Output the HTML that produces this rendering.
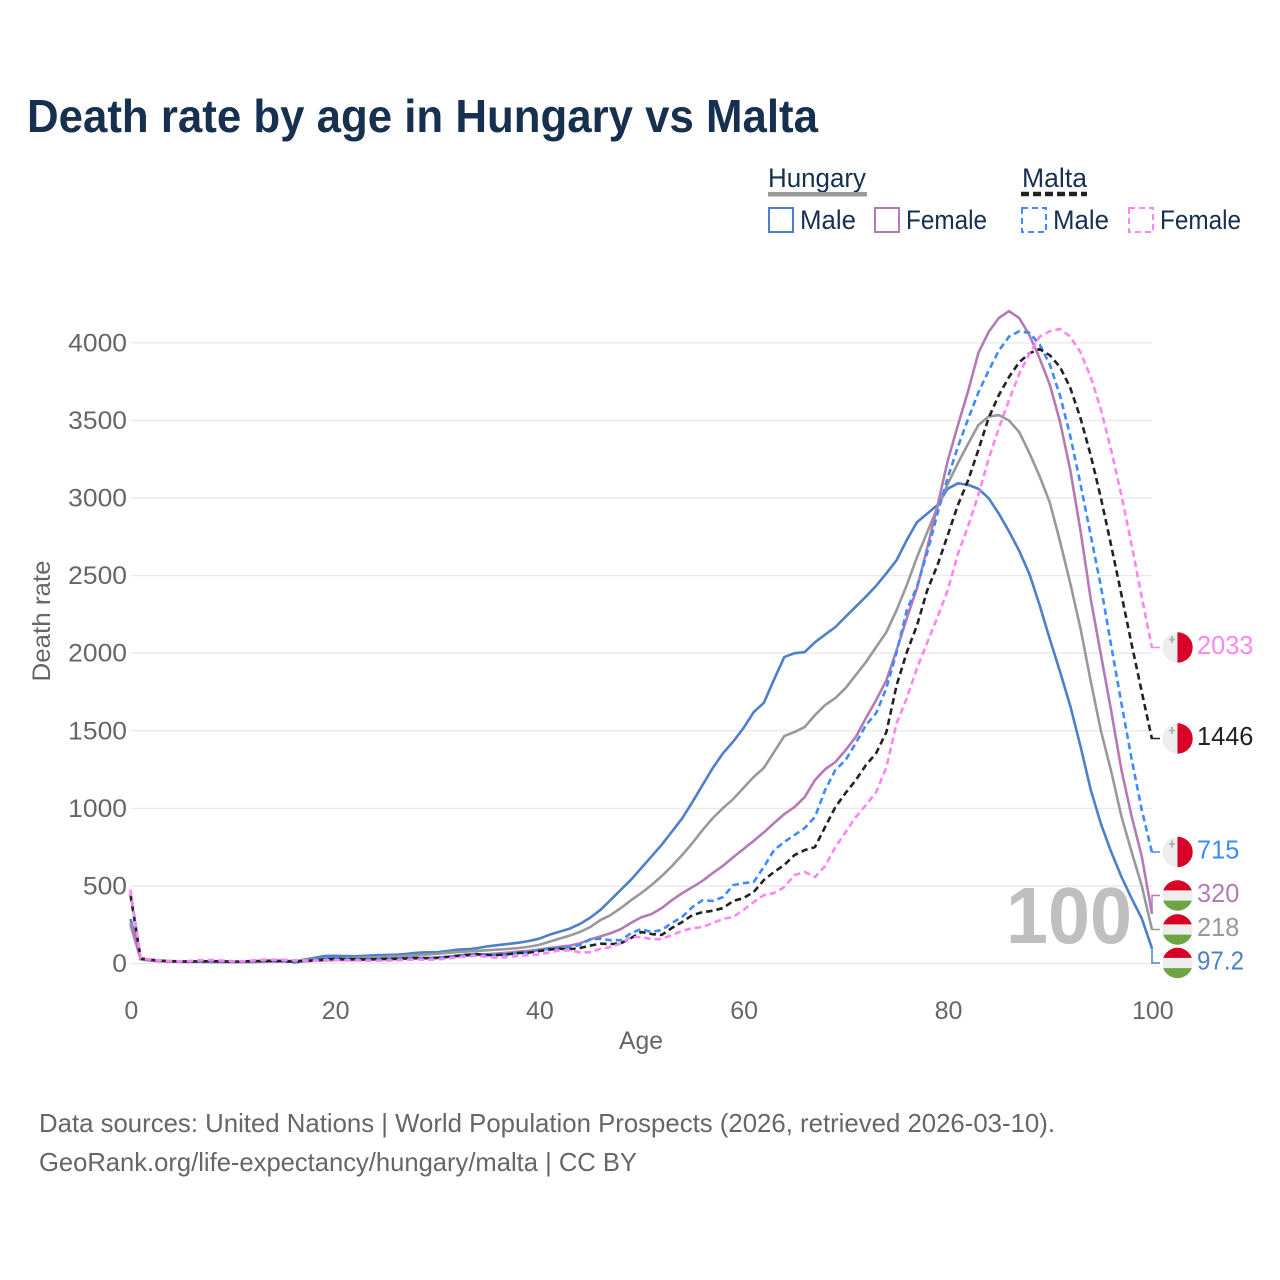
<!DOCTYPE html>
<html lang="en">
<head>
<meta charset="utf-8">
<title>Death rate by age in Hungary vs Malta</title>
<style>
html,body{margin:0;padding:0;background:#fff;}
svg{display:block;}
text{font-family:"Liberation Sans",sans-serif;}
</style>
</head>
<body>
<svg id="chart" xmlns="http://www.w3.org/2000/svg" width="1280" height="1280" viewBox="0 0 1280 1280">
  <rect width="1280" height="1280" fill="#fff"/>
  <text x="27" y="132" font-size="46" font-weight="700" fill="#17304f" textLength="791" lengthAdjust="spacingAndGlyphs">Death rate by age in Hungary vs Malta</text>

  <g>
    <text x="768" y="187" font-size="26.5" fill="#17304f" textLength="98" lengthAdjust="spacingAndGlyphs">Hungary</text>
    <rect x="768" y="192" width="99" height="4.5" fill="#999"/>
    <text x="1022" y="187" font-size="26.5" fill="#17304f" textLength="65" lengthAdjust="spacingAndGlyphs">Malta</text>
    <line x1="1021" y1="194" x2="1087" y2="194" stroke="#222" stroke-width="4.5" stroke-dasharray="8 4"/>

    <rect x="769" y="208" width="24" height="24" fill="none" stroke="#4e7fc9" stroke-width="2"/>
    <text x="800" y="229" font-size="26.5" fill="#17304f" textLength="56" lengthAdjust="spacingAndGlyphs">Male</text>
    <rect x="875" y="208" width="24" height="24" fill="none" stroke="#b57ab5" stroke-width="2"/>
    <text x="906" y="229" font-size="26.5" fill="#17304f" textLength="81" lengthAdjust="spacingAndGlyphs">Female</text>
    <rect x="1022" y="208" width="24" height="24" fill="none" stroke="#3d8bff" stroke-width="2" stroke-dasharray="6 4"/>
    <text x="1053" y="229" font-size="26.5" fill="#17304f" textLength="56" lengthAdjust="spacingAndGlyphs">Male</text>
    <rect x="1129" y="208" width="24" height="24" fill="none" stroke="#ff85f5" stroke-width="2" stroke-dasharray="6 4"/>
    <text x="1160" y="229" font-size="26.5" fill="#17304f" textLength="81" lengthAdjust="spacingAndGlyphs">Female</text>
  </g>

  <g id="grid"></g>
  <g id="yticks"></g>
  <g id="xticks"></g>

  <text x="641" y="1049" font-size="25" fill="#666" text-anchor="middle" textLength="44" lengthAdjust="spacingAndGlyphs">Age</text>
  <text transform="translate(50,621) rotate(-90)" font-size="25" fill="#666" text-anchor="middle" textLength="121" lengthAdjust="spacingAndGlyphs">Death rate</text>

  <text x="1006" y="943" font-size="80" font-weight="700" fill="#bfbfbf" textLength="126" lengthAdjust="spacingAndGlyphs">100</text>

  <g id="series"></g>
  <g id="endmarks"></g>

  <g>
    <text x="39" y="1132" font-size="26" fill="#666" textLength="1016" lengthAdjust="spacingAndGlyphs">Data sources: United Nations | World Population Prospects (2026, retrieved 2026-03-10).</text>
    <text x="39" y="1171" font-size="26" fill="#666" textLength="598" lengthAdjust="spacingAndGlyphs">GeoRank.org/life-expectancy/hungary/malta | CC BY</text>
  </g>
</svg>

<script>
const xTickLabels = [0, 20, 40, 60, 80, 100];
const yTickLabels = [0, 500, 1000, 1500, 2000, 2500, 3000, 3500, 4000];

const hungaryMale = [
  287,32,22,16,13,11,11,11,10,10,
  9,10,11,12,14,16,10,25,36,48,
  50,48,46,50,54,55,57,62,69,72,
  72,80,89,92,100,111,119,126,134,145,
  160,185,205,225,255,295,345,410,475,540,
  615,690,765,850,935,1040,1150,1260,1355,1430,
  1517,1620,1680,1830,1975,2000,2007,2070,2120,2168,
  2235,2300,2365,2435,2515,2600,2730,2845,2900,2955,
  3060,3095,3085,3060,3000,2900,2785,2660,2510,2310,
  2090,1880,1660,1400,1120,900,720,560,420,290,97.2];
const hungaryTotal = [
  262,28,20,15,13,12,12,12,11,11,
  10,11,11,12,14,16,17,20,26,30,
  34,35,36,38,40,42,46,50,54,58,
  62,68,74,78,82,86,90,94,100,108,
  120,140,160,180,203,235,280,312,357,408,
  454,505,563,628,699,776,860,937,1002,1060,
  1131,1202,1260,1363,1466,1492,1524,1601,1666,1711,
  1775,1859,1943,2040,2136,2278,2440,2620,2780,2940,
  3090,3225,3350,3470,3525,3535,3500,3425,3290,3140,
  2970,2720,2450,2160,1820,1500,1240,950,720,500,218];
const hungaryFemale = [
  250,26,18,14,12,11,11,11,10,10,
  9,10,10,11,12,13,14,15,17,20,
  22,22,22,24,26,27,28,30,32,35,
  38,42,46,50,55,60,65,70,76,82,
  90,100,108,115,130,155,175,195,222,262,
  298,318,357,408,453,492,533,583,630,685,
  737,790,845,905,963,1008,1073,1182,1252,1298,
  1375,1460,1582,1698,1826,2020,2226,2420,2680,2950,
  3240,3470,3690,3935,4070,4160,4205,4160,4050,3900,
  3730,3490,3180,2790,2350,1990,1630,1250,950,690,320];
const maltaMale = [
  465,33,24,18,15,13,13,14,14,13,
  11,12,14,16,17,15,6,14,22,30,
  34,30,28,28,28,28,30,34,36,34,
  36,42,50,58,62,56,55,60,70,72,
  88,95,100,105,120,155,160,150,150,195,
  222,203,216,261,300,364,408,403,428,505,
  518,525,622,731,783,828,873,944,1118,1247,
  1311,1420,1537,1614,1775,2007,2278,2430,2650,2900,
  3130,3330,3510,3680,3820,3950,4040,4075,4065,3990,
  3860,3660,3400,3090,2760,2430,2050,1680,1320,990,715];
const maltaTotal = [
  440,32,24,18,15,13,13,14,15,14,
  12,13,15,17,18,16,12,16,20,26,
  30,28,28,26,28,30,30,33,36,34,
  36,42,50,56,60,54,55,60,68,70,
  80,90,95,92,100,115,128,125,130,164,
  203,190,184,229,267,312,331,340,357,403,
  422,460,538,590,635,699,731,750,880,1008,
  1099,1182,1279,1356,1492,1794,2007,2180,2406,2568,
  2760,2955,3115,3310,3515,3663,3780,3875,3933,3960,
  3920,3844,3710,3515,3276,3000,2695,2380,2060,1750,1446];
const maltaFemale = [
  475,33,25,20,16,15,17,22,23,19,
  15,15,20,25,25,23,21,19,18,20,
  22,20,20,18,18,18,20,24,26,24,
  26,32,40,46,50,42,36,42,50,54,
  58,72,84,84,72,72,95,105,130,170,
  170,157,157,184,210,228,235,261,287,300,
  345,396,441,454,492,570,590,557,628,750,
  847,944,1021,1105,1266,1549,1711,1904,2070,2232,
  2406,2640,2820,3020,3250,3450,3630,3800,3930,4040,
  4075,4090,4040,3940,3780,3570,3310,3020,2700,2360,2033];

const endLabels = ["97.2", "218", "320", "715", "1446", "2033"];

const NS = "http://www.w3.org/2000/svg";
const xScale = a => 130.5 + a * 10.215;
const yScale = v => 963.5 - v * 0.15515;

function make(tag, parent) {
  const el = document.createElementNS(NS, tag);
  parent.appendChild(el);
  return el;
}

const gridG = document.getElementById("grid");
const yG = document.getElementById("yticks");
const xG = document.getElementById("xticks");
const seriesG = document.getElementById("series");
const endG = document.getElementById("endmarks");

yTickLabels.forEach(t => {
  const line = make("line", gridG);
  
  
  line.setAttribute("x1", xScale(0));
  line.setAttribute("x2", xScale(100));
  line.setAttribute("y1", yScale(t));
  line.setAttribute("y2", yScale(t));
  line.setAttribute("stroke", "#e9e9e9");
  line.setAttribute("stroke-width", "1.3");

  const label = make("text", yG);
  
  
  label.setAttribute("x", 127);
  label.setAttribute("y", yScale(t) + 8.5);
  label.setAttribute("text-anchor", "end");
  label.setAttribute("font-size", "25");
  label.setAttribute("fill", "#666");
  label.setAttribute("textLength", String(t).length * 14.7);
  label.setAttribute("lengthAdjust", "spacingAndGlyphs");
  label.textContent = t;
});

xTickLabels.forEach(t => {
  const label = make("text", xG);
  
  
  label.setAttribute("x", xScale(t) + 0.8);
  label.setAttribute("y", 1019);
  label.setAttribute("text-anchor", "middle");
  label.setAttribute("font-size", "25");
  label.setAttribute("fill", "#666");
  label.textContent = t;
});

function drawSeries(values, name, color, dash) {
  const path = make("path", seriesG);
  
  
  path.setAttribute("d", values.map((v, a) => (a ? "L" : "M") + xScale(a).toFixed(2) + " " + yScale(v).toFixed(2)).join(""));
  path.setAttribute("fill", "none");
  path.setAttribute("stroke", color);
  path.setAttribute("stroke-width", "2.6");
  path.setAttribute("stroke-linejoin", "round");
  if (dash) path.setAttribute("stroke-dasharray", dash);
}

drawSeries(hungaryMale, "line-hungary-male", "#4e7fc9", null);
drawSeries(hungaryTotal, "line-hungary-total", "#999999", null);
drawSeries(hungaryFemale, "line-hungary-female", "#b57ab5", null);
drawSeries(maltaMale, "line-malta-male", "#3d8bff", "6.5 4");
drawSeries(maltaTotal, "line-malta-total", "#222222", "6.5 4");
drawSeries(maltaFemale, "line-malta-female", "#ff85f5", "6.5 4");

function drawEnd(value, text, labelY, color, country) {
  const y0 = yScale(value);
  const baseline = labelY + 6.5;
  const link = make("path", endG);
  
  
  link.setAttribute("d", "M" + xScale(100) + " " + y0 + "L" + xScale(100) + " " + labelY + "L1160 " + labelY);
  link.setAttribute("fill", "none");
  link.setAttribute("stroke", color);
  link.setAttribute("stroke-width", "1.5");

  const cx = 1177.5, r = 15.2;
  const flag = make("g", endG);
  
  
  const disc = make("circle", flag);
  disc.setAttribute("cx", cx);
  disc.setAttribute("cy", labelY);
  disc.setAttribute("r", r);
  disc.setAttribute("fill", "#eeeeee");
  if (country === "malta") {
    const half = make("path", flag);
    half.setAttribute("d", "M" + cx + " " + (labelY - r) + "A" + r + " " + r + " 0 0 1 " + cx + " " + (labelY + r) + "Z");
    half.setAttribute("fill", "#d80027");
    const cross = make("path", flag);
    cross.setAttribute("d", "M" + (cx - 8.5) + " " + (labelY - 8) + "h6M" + (cx - 5.5) + " " + (labelY - 11.5) + "v7");
    cross.setAttribute("stroke", "#b5b5b5");
    cross.setAttribute("stroke-width", "2");
  } else {
    const w = Math.sqrt(r * r - (r / 3) * (r / 3));
    const top = make("path", flag);
    top.setAttribute("d", "M" + (cx - w) + " " + (labelY - r / 3) + "A" + r + " " + r + " 0 0 1 " + (cx + w) + " " + (labelY - r / 3) + "Z");
    top.setAttribute("fill", "#d80027");
    const bottom = make("path", flag);
    bottom.setAttribute("d", "M" + (cx - w) + " " + (labelY + r / 3) + "A" + r + " " + r + " 0 0 0 " + (cx + w) + " " + (labelY + r / 3) + "Z");
    bottom.setAttribute("fill", "#6da544");
  }
  const label = make("text", endG);
  
  
  label.setAttribute("x", 1197);
  label.setAttribute("y", baseline);
  label.setAttribute("font-size", "25.5");
  label.setAttribute("fill", color);
  label.setAttribute("textLength", text.indexOf(".") >= 0 ? 47 : text.length * 14.1);
  label.setAttribute("lengthAdjust", "spacingAndGlyphs");
  label.textContent = text;
}

drawEnd(maltaFemale[100], endLabels[5], 647.5, "#ff85f5", "malta");
drawEnd(maltaTotal[100], endLabels[4], 738.5, "#222222", "malta");
drawEnd(maltaMale[100], endLabels[3], 852, "#3d8bff", "malta");
drawEnd(hungaryFemale[100], endLabels[2], 895.5, "#b57ab5", "hungary");
drawEnd(hungaryTotal[100], endLabels[1], 929.5, "#999999", "hungary");
drawEnd(hungaryMale[100], endLabels[0], 963, "#4e7fc9", "hungary");
</script>
</body>
</html>
